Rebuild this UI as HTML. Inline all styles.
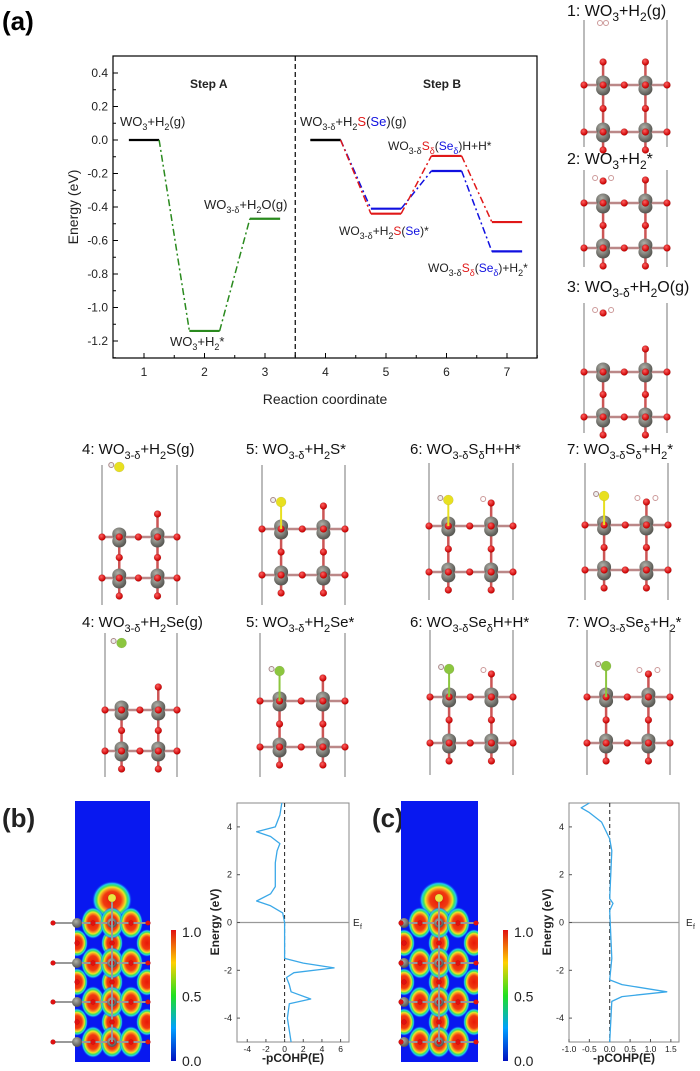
<!DOCTYPE html>
<html><head><meta charset="utf-8">
<style>
html,body{margin:0;padding:0;background:#fff;}
svg{display:block;font-family:"Liberation Sans","DejaVu Sans",sans-serif;}
</style></head>
<body>
<svg id="fig" width="700" height="1071" viewBox="0 0 700 1071" xmlns="http://www.w3.org/2000/svg">
<defs>
<radialGradient id="blob" cx="50%" cy="50%" r="50%">
<stop offset="0" stop-color="#e81808"/>
<stop offset="0.45" stop-color="#f03a10"/>
<stop offset="0.58" stop-color="#f89020"/>
<stop offset="0.68" stop-color="#e8e826"/>
<stop offset="0.77" stop-color="#40e060"/>
<stop offset="0.87" stop-color="#20c8f0"/>
<stop offset="1" stop-color="#0818f0" stop-opacity="0"/>
</radialGradient>
<linearGradient id="cbar" x1="0" y1="1" x2="0" y2="0">
<stop offset="0" stop-color="#0010c0"/>
<stop offset="0.25" stop-color="#00a0ff"/>
<stop offset="0.5" stop-color="#20e020"/>
<stop offset="0.75" stop-color="#ffd000"/>
<stop offset="1" stop-color="#e01010"/>
</linearGradient>
<radialGradient id="wball" cx="40%" cy="35%" r="60%"><stop offset="0" stop-color="#b0b0a8"/><stop offset="1" stop-color="#5a5a55"/></radialGradient>
<radialGradient id="oball" cx="40%" cy="35%" r="60%"><stop offset="0" stop-color="#ff6060"/><stop offset="1" stop-color="#c80000"/></radialGradient>
</defs>
<text x="2" y="30" font-size="26" font-weight="bold">(a)</text>
<g id="chartA"></g>
<g id="structs"></g>
<g id="bottom"></g>
</svg>
<script>
// ===== Chart (a) data =====
const stepACoords = [1, 2, 3];
const stepAEnergies = [0, -1.14, -0.47];
const stepBCoords = [4, 5, 6, 7];
const sEnergies = [0, -0.44, -0.095, -0.49];
const seEnergies = [0, -0.41, -0.185, -0.665];
const yTicks = [0.4, 0.2, 0.0, -0.2, -0.4, -0.6, -0.8, -1.0, -1.2];
const xTicks = [1, 2, 3, 4, 5, 6, 7];

const NS = "http://www.w3.org/2000/svg";
function el(tag, attrs, parent) {
  const e = document.createElementNS(NS, tag);
  for (const k in attrs) e.setAttribute(k, attrs[k]);
  parent.appendChild(e);
  return e;
}
// rich text: parts = [[text, isSub, color]]
function rich(parts, size) {
  const off = Math.round(size * 0.3);
  const subSize = Math.round(size * 0.72);
  let prev = 0, out = '';
  parts.forEach(p => {
    const cur = p[1] ? off : 0;
    const dy = cur - prev;
    prev = cur;
    out += `<tspan dy="${dy}"${p[1] ? ` font-size="${subSize}"` : ''}${p[2] ? ` fill="${p[2]}"` : ''}>${p[0]}</tspan>`;
  });
  return out;
}
const R = '#e01818', Bl = '#1010e0';
const X = v => 144 + (v - 1) * 60.5;
const Y = v => 73 + (0.4 - v) * 167.5;
const A = document.getElementById('chartA');

const frame = el('rect', {x:113, y:56, width:424, height:302, fill:'none', stroke:'#000', 'stroke-width':1.2}, A);


const sep = el('line', {x1:X(3.5), x2:X(3.5), y1:56, y2:358, stroke:'#000', 'stroke-dasharray':'5,3', 'stroke-width':1.2}, A);



yTicks.forEach(t => {
  const tk = el('line', {x1:113, x2:118, y1:Y(t), y2:Y(t), stroke:'#000'}, A);
  
  
  const mt = el('line', {x1:113, x2:116, y1:Y(t - 0.1), y2:Y(t - 0.1), stroke:'#000'}, A);
  
  
  const lb = el('text', {x:108, y:Y(t) + 4, 'font-size':12, 'text-anchor':'end', fill:'#222'}, A);
  lb.textContent = t.toFixed(1);
  
  
});
xTicks.forEach(t => {
  const tk = el('line', {x1:X(t), x2:X(t), y1:358, y2:353, stroke:'#000'}, A);
  
  
  const mt = el('line', {x1:X(t + 0.5), x2:X(t + 0.5), y1:358, y2:355, stroke:'#000'}, A);
  
  
  const lb = el('text', {x:X(t), y:376, 'font-size':12, 'text-anchor':'middle', fill:'#222'}, A);
  lb.textContent = t;
  
  
});
const yl = el('text', {x:0, y:0, 'font-size':14, 'text-anchor':'middle', transform:'translate(78,207) rotate(-90)', fill:'#222'}, A);
yl.textContent = 'Energy (eV)';


const xl = el('text', {x:325, y:404, 'font-size':14, 'text-anchor':'middle', fill:'#222'}, A);
xl.textContent = 'Reaction coordinate';



function drawSeries(coords, vals, color, firstColor, name) {
  for (let i = 0; i < coords.length; i++) {
    const c = (i === 0 && firstColor) ? firstColor : color;
    const l = el('line', {x1:X(coords[i] - 0.25), x2:X(coords[i] + 0.25), y1:Y(vals[i]), y2:Y(vals[i]), stroke:c, 'stroke-width':2.2}, A);
    
    
    if (i > 0) {
      const d = el('line', {x1:X(coords[i-1] + 0.25), y1:Y(vals[i-1]), x2:X(coords[i] - 0.25), y2:Y(vals[i]), stroke:color, 'stroke-width':1.5, 'stroke-dasharray':'7,3,2,3'}, A);
      
      
    }
  }
}
drawSeries(stepACoords, stepAEnergies, '#2a8a1e', '#000', 'step-a');
drawSeries(stepBCoords, seEnergies, Bl, '#000', 'se-path');
drawSeries(stepBCoords, sEnergies, R, '#000', 's-path');

function label(parts, x, y, name, size, weight) {
  const t = el('text', {x:x, y:y, 'font-size':size || 12, fill:'#222'}, A);
  if (weight) t.setAttribute('font-weight', weight);
  t.innerHTML = rich(parts, size || 12);
  
  
}
label([['Step A']], 190, 88, 'step-a-title', 12, 'bold');
label([['Step B']], 423, 88, 'step-b-title', 12, 'bold');
label([['WO'], ['3', 1], ['+H'], ['2', 1], ['(g)']], 120, 126, 'label-1', 13);
label([['WO'], ['3', 1], ['+H'], ['2', 1], ['*']], 170, 346, 'label-2', 13);
label([['WO'], ['3-δ', 1], ['+H'], ['2', 1], ['O(g)']], 204, 209, 'label-3', 13);
label([['WO'], ['3-δ', 1], ['+H'], ['2', 1], ['S', 0, R], ['('], ['Se', 0, Bl], [')(g)']], 300, 126, 'label-4', 13);
label([['WO'], ['3-δ', 1], ['S', 0, R], ['δ', 1, R], ['('], ['Se', 0, Bl], ['δ', 1, Bl], [')H+H*']], 388, 150, 'label-6', 12);
label([['WO'], ['3-δ', 1], ['+H'], ['2', 1], ['S', 0, R], ['('], ['Se', 0, Bl], [')*']], 339, 235, 'label-5', 12);
label([['WO'], ['3-δ', 1], ['S', 0, R], ['δ', 1, R], ['('], ['Se', 0, Bl], ['δ', 1, Bl], [')+H'], ['2', 1], ['*']], 428, 272, 'label-7', 12);

// ===== Structures =====
const S = document.getElementById('structs');
function stext(parts, x, y, name, size) {
  const t = el('text', {x:x, y:y, 'font-size':size || 15, fill:'#111'}, S);
  t.innerHTML = rich(parts, size || 15);
  
  
}
function atom(x, y, r, fill, g) {
  el('circle', {cx:x, cy:y, r:r, fill:fill, stroke:'rgba(0,0,0,0.15)', 'stroke-width':0.5}, g);
}
function structure(L, Rr, T, B, r1, r2, opt, name) {
  const g = el('g', {}, S);
  
  
  el('line', {x1:L, x2:L, y1:T, y2:B, stroke:'#777', 'stroke-width':1}, g);
  el('line', {x1:Rr, x2:Rr, y1:T, y2:B, stroke:'#777', 'stroke-width':1}, g);
  const w = Rr - L, c1 = L + 0.23 * w, c2 = L + 0.74 * w, m = (c1 + c2) / 2;
  [r1, r2].forEach(r => el('line', {x1:L, x2:Rr, y1:r, y2:r, stroke:'#b88', 'stroke-width':2.5}, g));
  [c1, c2].forEach(c => el('line', {x1:c, x2:c, y1:r1 - ((opt.top2 && c === c2) || (opt.top1 && c === c1) ? 23 : 0), y2:r2 + 18, stroke:'#c55', 'stroke-width':2.5}, g));
  [r1, r2].forEach(r => {
    [c1, c2].forEach(c => {
      el('ellipse', {cx:c, cy:r - 3, rx:7, ry:6.5, fill:'url(#wball)'}, g);
      el('ellipse', {cx:c, cy:r + 4, rx:7, ry:6.5, fill:'url(#wball)'}, g);
    });
    [L, m, Rr, c1, c2].forEach(x => atom(x, r, 3.5, 'url(#oball)', g));
  });
  [c1, c2].forEach(c => { atom(c, (r1 + r2) / 2, 3.5, 'url(#oball)', g); atom(c, r2 + 18, 3.5, 'url(#oball)', g); });
  if (opt.top1) atom(c1, r1 - 23, 3.5, 'url(#oball)', g);
  if (opt.top2) atom(c2, r1 - 23, 3.5, 'url(#oball)', g);
  if (opt.x) {
    const col = opt.x.se ? '#8cc63f' : '#e8e020';
    if (opt.x.bond) el('line', {x1:c1, x2:c1, y1:r1, y2:opt.x.y, stroke:col, 'stroke-width':2}, g);
    el('circle', {cx:c1 - 8, cy:opt.x.y - 2, r:2.5, fill:'#eee', stroke:'#a88'}, g);
    atom(c1, opt.x.y, 5, col, g);
  }
  if (opt.h2) { el('circle', {cx:opt.h2[0] - 3, cy:opt.h2[1], r:2.5, fill:'#fff', stroke:'#c99'}, g); el('circle', {cx:opt.h2[0] + 3, cy:opt.h2[1], r:2.5, fill:'#fff', stroke:'#c99'}, g); }
  if (opt.oh) { el('circle', {cx:c2 - 8, cy:r1 - 27, r:2.5, fill:'#fff', stroke:'#c99'}, g); }
  if (opt.oh2) { el('circle', {cx:c2 - 9, cy:r1 - 27, r:2.5, fill:'#fff', stroke:'#c99'}, g); el('circle', {cx:c2 + 9, cy:r1 - 27, r:2.5, fill:'#fff', stroke:'#c99'}, g); }
  if (opt.w2) {
    atom(c1, opt.w2, 3.5, 'url(#oball)', g);
    el('circle', {cx:c1 - 8, cy:opt.w2 - 3, r:2.5, fill:'#fff', stroke:'#c99'}, g);
    el('circle', {cx:c1 + 8, cy:opt.w2 - 3, r:2.5, fill:'#fff', stroke:'#c99'}, g);
  }
}
stext([['1:  WO'], ['3', 1], ['+H'], ['2', 1], ['(g)']], 567, 16, 'structure-1-title', 16);
structure(584, 667, 20, 147, 85, 132, {top1:true, top2:true, h2:[603, 23]}, 'structure-1');
stext([['2:  WO'], ['3', 1], ['+H'], ['2', 1], ['*']], 567, 164, 'structure-2-title', 16);
structure(584, 667, 170, 267, 203, 248, {top2:true, w2:181}, 'structure-2');
stext([['3:  WO'], ['3-δ', 1], ['+H'], ['2', 1], ['O(g)']], 567, 292, 'structure-3-title', 16);
structure(584, 667, 303, 433, 372, 417, {top2:true, w2:313}, 'structure-3');

stext([['4: WO'], ['3-δ', 1], ['+H'], ['2', 1], ['S(g)']], 82, 454, 'structure-4s-title');
structure(102, 177, 465, 605, 537, 578, {top2:true, x:{y:467}}, 'structure-4s');
stext([['5: WO'], ['3-δ', 1], ['+H'], ['2', 1], ['S*']], 246, 454, 'structure-5s-title');
structure(262, 345, 465, 605, 529, 575, {top2:true, x:{y:502, bond:true}}, 'structure-5s');
stext([['6: WO'], ['3-δ', 1], ['S'], ['δ', 1], ['H+H*']], 410, 454, 'structure-6s-title');
structure(429, 513, 463, 600, 526, 572, {top2:true, oh:true, x:{y:500, bond:true}}, 'structure-6s');
stext([['7: WO'], ['3-δ', 1], ['S'], ['δ', 1], ['+H'], ['2', 1], ['*']], 567, 454, 'structure-7s-title');
structure(585, 668, 463, 600, 525, 570, {top2:true, oh2:true, x:{y:496, bond:true}}, 'structure-7s');

stext([['4: WO'], ['3-δ', 1], ['+H'], ['2', 1], ['Se(g)']], 82, 627, 'structure-4se-title');
structure(105, 177, 633, 777, 710, 751, {top2:true, x:{y:643, se:true}}, 'structure-4se');
stext([['5: WO'], ['3-δ', 1], ['+H'], ['2', 1], ['Se*']], 246, 627, 'structure-5se-title');
structure(260, 345, 633, 777, 701, 747, {top2:true, x:{y:671, bond:true, se:true}}, 'structure-5se');
stext([['6: WO'], ['3-δ', 1], ['Se'], ['δ', 1], ['H+H*']], 410, 627, 'structure-6se-title');
structure(430, 513, 630, 775, 697, 743, {top2:true, oh:true, x:{y:669, bond:true, se:true}}, 'structure-6se');
stext([['7: WO'], ['3-δ', 1], ['Se'], ['δ', 1], ['+H'], ['2', 1], ['*']], 567, 627, 'structure-7se-title');
structure(587, 670, 630, 775, 697, 743, {top2:true, oh2:true, x:{y:666, bond:true, se:true}}, 'structure-7se');

// ===== Bottom panels (b),(c) =====
const cohpBEnergy = [5, 4.5, 4.0, 3.8, 3.6, 3.3, 3.0, 2.5, 1.5, 1.2, 0.9, 0.7, 0.4, 0.0, -1.5, -1.7, -1.9, -2.1, -2.3, -2.6, -2.9, -3.2, -3.4, -4.0, -5.0];
const cohpBValue = [-0.3, -0.5, -1.0, -3.0, -1.5, -0.5, -0.8, -1.0, -1.0, -1.5, -3.0, -1.5, -0.2, 0.0, 0.0, 2.0, 5.3, 1.0, 0.2, 0.5, 0.7, 2.8, 0.5, 0.3, 0.7];
const cohpCEnergy = [5, 4.8, 4.6, 4.2, 3.5, 3.0, 1.0, 0.8, 0.5, -1.5, -2.4, -2.6, -2.9, -3.1, -3.3, -5.0];
const cohpCValue = [-0.5, -0.7, -0.5, -0.2, 0.0, 0.05, 0.0, 0.08, 0.0, 0.05, 0.0, 0.3, 1.4, 0.3, 0.05, 0.0];
const cohpBTicksX = [-4, -2, 0, 2, 4, 6];
const cohpCTicksX = [-1.0, -0.5, 0.0, 0.5, 1.0, 1.5];
const energyTicks = [4, 2, 0, -2, -4];
const cbarTicks = [1.0, 0.5, 0.0];

const Bt = document.getElementById('bottom');
function btext(s, x, y, size, name, extra) {
  const t = el('text', Object.assign({x:x, y:y, 'font-size':size, fill:'#222'}, extra || {}), Bt);
  t.textContent = s;
  
  
  return t;
}
btext('(b)', 2, 827, 26, 'panel-label-b', {'font-weight':'bold'});
btext('(c)', 372, 827, 26, 'panel-label-c', {'font-weight':'bold'});

function heatmap(x0, x1, y0, y1, cols, name, withLeft) {
  const g = el('g', {}, Bt);
  
  
  el('rect', {x:x0, y:y0, width:x1 - x0, height:y1 - y0, fill:'#0818f0'}, g);
  const cp = 'clip' + name;
  const cl = el('clipPath', {id:cp}, g);
  el('rect', {x:x0, y:y0, width:x1 - x0, height:y1 - y0}, cl);
  const inner = el('g', {'clip-path':'url(#' + cp + ')'}, g);
  const rowsMain = [923, 963, 1002, 1042], rowsMid = [943, 982, 1022];
  el('ellipse', {cx:cols[1], cy:900, rx:20, ry:19, fill:'url(#blob)'}, inner);
  rowsMid.forEach(r => [cols[1] - 35, cols[1], cols[1] + 35].forEach(c => el('ellipse', {cx:c, cy:r, rx:11, ry:14, fill:'url(#blob)'}, inner)));
  rowsMain.forEach(r => [cols[0], cols[1], cols[2]].forEach(c => el('ellipse', {cx:c, cy:r, rx:12, ry:16, fill:'url(#blob)'}, inner)));
  rowsMain.forEach(r => {
    el('line', {x1:x0 - (withLeft ? 20 : 0), x2:x1, y1:r, y2:r, stroke:'#999', 'stroke-width':2}, g);
    [cols[1] - 35, cols[1]].forEach(c => el('circle', {cx:c, cy:r, r:5, fill:'url(#wball)'}, g));
    [x0 + (withLeft ? -22 : 0), cols[0], cols[1], cols[2], x1 - 2].forEach(c => atom(c, r, 2.5, '#e01010', g));
  });
  el('line', {x1:cols[1], x2:cols[1], y1:898, y2:1042, stroke:'#999', 'stroke-width':2}, g);
  atom(cols[1], 898, 4, '#e8e840', g);
  rowsMid.forEach(r => [cols[1] - 35, cols[1]].forEach(c => atom(c, r, 2.5, '#e01010', g)));
}
heatmap(75, 150, 801, 1062, [93, 112, 131], 'charge-density-map-b', true);
heatmap(401, 478, 801, 1062, [420, 439, 458], 'charge-density-map-c', false);

function colorbar(x, name) {
  const r = el('rect', {x:x, y:930, width:5, height:131, fill:'url(#cbar)'}, Bt);
  
  
  cbarTicks.forEach(v => btext(v.toFixed(1), x + 11, 1062 - v * 129 + 4, 14, name + '-label'));
}
colorbar(171, 'colorbar-b');
colorbar(503, 'colorbar-c');

function cohp(x0, x1, xmin, xmax, ticks, E, V, name, efX, dec) {
  const y0 = 803, y1 = 1042;
  const XX = v => x0 + (v - xmin) / (xmax - xmin) * (x1 - x0);
  const YY = e => 922.5 - e * 23.9;
  const g = el('g', {}, Bt);
  
  
  el('rect', {x:x0, y:y0, width:x1 - x0, height:y1 - y0, fill:'none', stroke:'#888'}, g);
  el('line', {x1:x0, x2:x1, y1:YY(0), y2:YY(0), stroke:'#999', 'stroke-width':1.2}, g);
  el('line', {x1:XX(0), x2:XX(0), y1:y0, y2:y1, stroke:'#222', 'stroke-dasharray':'4,3'}, g);
  energyTicks.forEach(e => {
    el('line', {x1:x0, x2:x0 + 3, y1:YY(e), y2:YY(e), stroke:'#555'}, g);
    btext(String(e), x0 - 5, YY(e) + 3, 9, name + '-y-tick-label', {'text-anchor':'end'});
  });
  ticks.forEach(t => {
    el('line', {x1:XX(t), x2:XX(t), y1:y1, y2:y1 - 3, stroke:'#555'}, g);
    btext(dec ? t.toFixed(1) : String(t), XX(t), y1 + 10, 8.5, name + '-x-tick-label', {'text-anchor':'middle'});
  });
  const pts = E.map((e, i) => XX(V[i]).toFixed(1) + ',' + YY(e).toFixed(1)).join(' ');
  const pl = el('polyline', {points:pts, fill:'none', stroke:'#3aa8e8', 'stroke-width':1.3, 'stroke-linejoin':'round'}, g);
  
  
  btext('-pCOHP(E)', (x0 + x1) / 2, 1062, 12, name + '-x-title', {'text-anchor':'middle', 'font-weight':'bold'});
  btext('Energy (eV)', 0, 0, 12, name + '-y-title', {'text-anchor':'middle', 'font-weight':'bold', transform:'translate(' + (x0 - 18) + ',922) rotate(-90)'});
  btext('E', efX, 926, 10, name + '-ef-label');
  btext('f', efX + 7, 929, 7, name + '-ef-sub');
}
cohp(237, 349, -5.1, 6.9, cohpBTicksX, cohpBEnergy, cohpBValue, 'cohp-b', 353, false);
cohp(569, 679, -1.0, 1.7, cohpCTicksX, cohpCEnergy, cohpCValue, 'cohp-c', 686, true);
</script>
</body></html>
